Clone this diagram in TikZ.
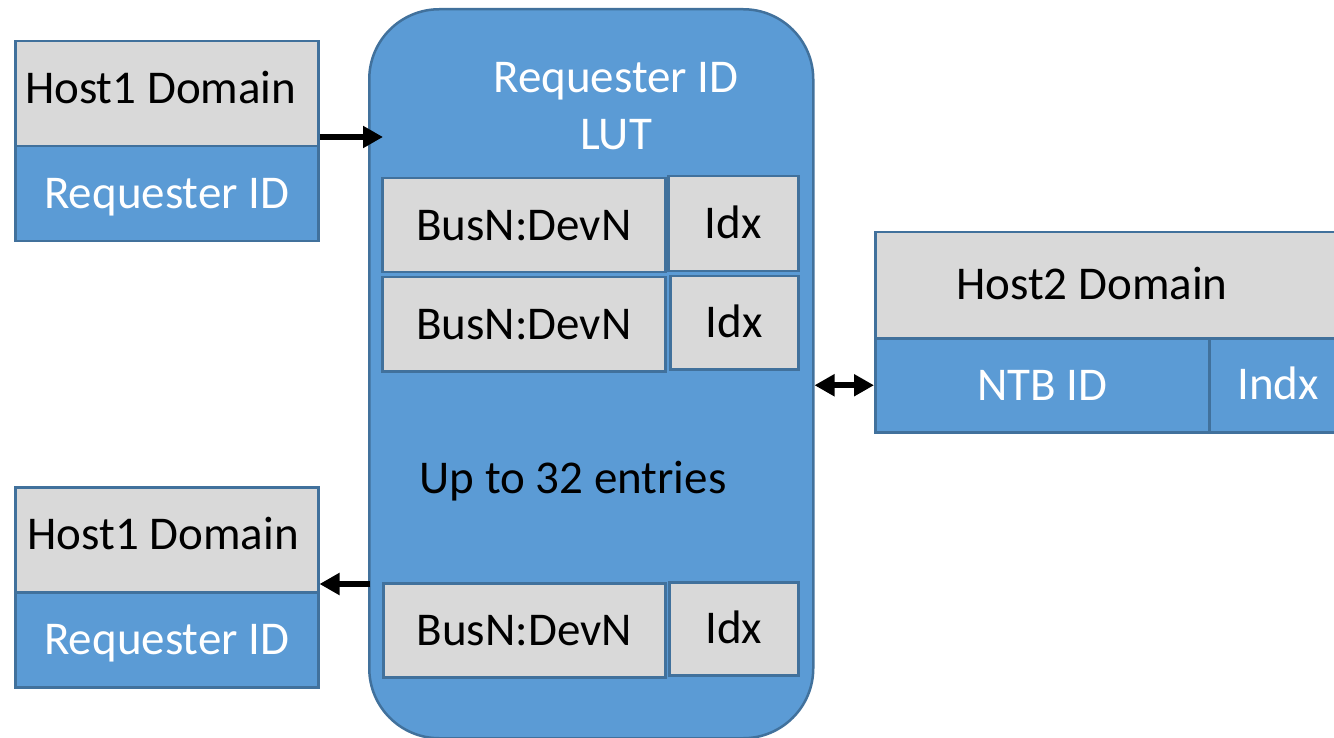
\documentclass[tikz,border=0pt]{standalone}
\usepackage{fontspec}
\setmainfont{Carlito}
\usetikzlibrary{arrows.meta}
\definecolor{boxblue}{HTML}{5B9BD5}
\definecolor{edgeblue}{HTML}{41719C}
\definecolor{boxgray}{HTML}{D9D9D9}
\tikzset{
  cell/.style={draw=edgeblue, line width=2.5pt, rectangle, inner sep=0pt, anchor=north west,
    font=\fontsize{47}{56.4}\selectfont, text height=35pt, text depth=5pt},
  graycell/.style={cell, fill=boxgray, text=black},
  bluecell/.style={cell, fill=boxblue, text=white},
  txt/.style={inner sep=0pt, font=\fontsize{47}{56.4}\selectfont, text height=35pt, text depth=5pt},
  arr/.style={line width=6pt, -{Triangle[length=20pt,width=21pt]}},
  darr/.style={line width=6pt, {Triangle[length=20pt,width=21pt]}-{Triangle[length=20pt,width=21pt]}}
}
\begin{document}
\begin{tikzpicture}[x=1pt, y=-1pt]
\useasboundingbox (0,0) rectangle (1334,738);
\clip (0,0) rectangle (1334,738);
\fill[white] (0,0) rectangle (1334,738);

% lookup table body
\node[draw=edgeblue, fill=boxblue, line width=2.5pt, rounded corners=70pt, inner sep=0pt,
  anchor=north west, minimum width=444pt, minimum height=729pt] (lut) at (368,8) {};
\node[txt, text=white, anchor=base] (luttitle) at (616,93) {Requester ID};
\node[txt, text=white, anchor=base] (lutname) at (616,150) {LUT};

% table entries
\node[graycell, minimum width=283pt, minimum height=94pt] (r1k) at (381,177) {BusN:DevN};
\node[graycell, minimum width=130pt, minimum height=95pt] (r1i) at (667,175) {Idx};
\node[graycell, minimum width=283pt, minimum height=94pt] (r2k) at (381,276) {BusN:DevN};
\node[graycell, minimum width=128pt, minimum height=93pt] (r2i) at (669,275) {Idx};
\node[graycell, minimum width=282pt, minimum height=94pt] (r3k) at (382,582) {BusN:DevN};
\node[graycell, minimum width=129pt, minimum height=93pt] (r3i) at (668,581) {Idx};
\node[txt, anchor=base] (entries) at (573,493) {Up to 32 entries};

% host 1, upper
\node[graycell, minimum width=303pt, minimum height=105pt] (h1a) at (14,40) {};
\node[txt] (h1atext) at ([xshift=-6pt,yshift=5.5pt]h1a.center) {Host1 Domain};
\node[bluecell, minimum width=303pt, minimum height=95pt] (h1b) at (14,145) {Requester ID};

% host 1, lower
\node[graycell, minimum width=303pt, minimum height=105pt] (h1c) at (14,486) {};
\node[txt] (h1ctext) at ([xshift=-3.5pt,yshift=5.5pt]h1c.center) {Host1 Domain};
\node[bluecell, minimum width=303pt, minimum height=95pt] (h1d) at (14,591) {Requester ID};

% host 2
\node[graycell, minimum width=480pt, minimum height=106pt] (h2a) at (874,231) {};
\node[txt] (h2atext) at (1092,285) {Host2 Domain};
\node[bluecell, minimum width=334pt, minimum height=94pt] (h2b) at (874,337) {NTB ID};
\node[bluecell, minimum width=146pt, minimum height=94pt] (h2c) at (1208,337) {};
\node[txt, text=white] (h2ctext) at (1278,384) {Indx};

% connectors
\coordinate (in1) at ([xshift=15pt]lut.west |- 0,137);
\draw[arr] (h1a.east |- in1) -- (in1);
\draw[darr] (lut.east |- h2b.west) -- (h2b.west);
\coordinate (out1) at ([xshift=2pt]lut.west |- 0,584);
\draw[arr] (out1) -- (h1c.east |- out1);
\end{tikzpicture}
\end{document}
